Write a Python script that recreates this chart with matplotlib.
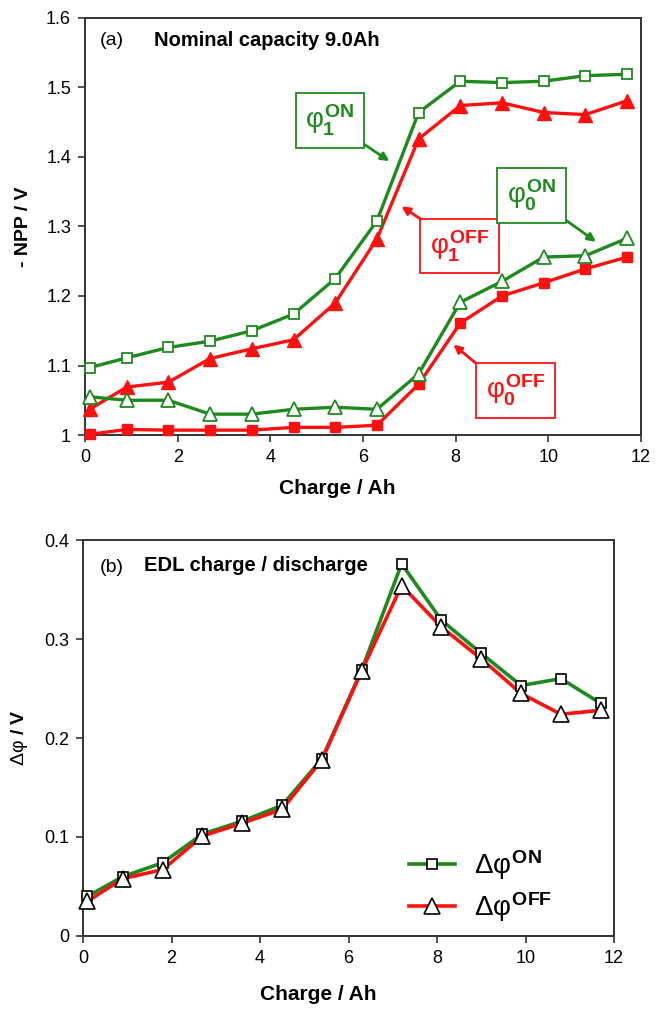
import matplotlib
matplotlib.use("Agg")
import matplotlib.pyplot as plt
from matplotlib.lines import Line2D

plt.rcParams['font.family'] = ['Liberation Sans', 'DejaVu Sans']
plt.rcParams['mathtext.fontset'] = 'custom'
plt.rcParams['mathtext.rm'] = 'Liberation Sans'
plt.rcParams['mathtext.it'] = 'Liberation Sans'
plt.rcParams['mathtext.bf'] = 'Liberation Sans:bold'

# ---------------- data ----------------
charge = [0.1, 0.9, 1.8, 2.7, 3.6, 4.5, 5.4, 6.3, 7.2, 8.1, 9.0, 9.9, 10.8, 11.7]

phi1_on = [1.097, 1.111, 1.126, 1.135, 1.150, 1.174, 1.225, 1.308, 1.464, 1.509,
           1.507, 1.509, 1.517, 1.519]
phi1_off = [1.037, 1.069, 1.076, 1.110, 1.124, 1.137, 1.190, 1.282, 1.426, 1.474,
            1.478, 1.464, 1.461, 1.481]
phi0_on = [1.055, 1.050, 1.050, 1.030, 1.030, 1.037, 1.040, 1.037, 1.088, 1.191,
           1.221, 1.256, 1.258, 1.283]
phi0_off = [1.001, 1.008, 1.007, 1.007, 1.007, 1.011, 1.011, 1.014, 1.073, 1.161,
            1.200, 1.219, 1.239, 1.256]

dphi_on = [0.040, 0.060, 0.074, 0.103, 0.116, 0.132, 0.179, 0.269, 0.376, 0.319,
           0.2855, 0.253, 0.260, 0.235]
dphi_off = [0.035, 0.058, 0.067, 0.101, 0.114, 0.128, 0.178, 0.268, 0.354, 0.312,
            0.280, 0.245, 0.224, 0.228]

xticks = [0, 2, 4, 6, 8, 10, 12]
yticks_a = [1.0, 1.1, 1.2, 1.3, 1.4, 1.5, 1.6]
yticklabels_a = ['1', '1.1', '1.2', '1.3', '1.4', '1.5', '1.6']
yticks_b = [0.0, 0.1, 0.2, 0.3, 0.4]
yticklabels_b = ['0', '0.1', '0.2', '0.3', '0.4']

GREEN = '#1e8a1e'
RED = '#ff1010'
SPINE = '#333333'

fig = plt.figure(figsize=(6.6, 10.1), dpi=100)
axa = fig.add_axes([0.1288, 0.5693, 0.8424, 0.4129])
axb = fig.add_axes([0.1258, 0.0733, 0.8045, 0.3920])


def style_axes(ax, label_x, label_y):
    for s in ax.spines.values():
        s.set_color(SPINE)
        s.set_linewidth(1.4)
    ax.tick_params(axis='both', which='both', direction='out', length=5, width=1.2,
                   color=SPINE, labelsize=13, top=False, right=False, pad=5)
    ax.set_xlim(0, 12)
    ax.set_xticks(xticks)
    ax.set_xticklabels([str(t) for t in xticks])
    ax.set_xlabel('Charge / Ah', fontsize=15, fontweight='bold')
    ax.xaxis.set_label_coords(label_x, label_y)


# ---------------- panel (a) ----------------
ax = axa
style_axes(ax, 0.454, -0.105)
ax.set_ylim(1.0, 1.6)
ax.set_yticks(yticks_a)
ax.set_yticklabels(yticklabels_a)
ax.set_ylabel('- NPP / V', fontsize=14, fontweight='bold', labelpad=10)

lw = 2.4
ax.plot(charge, phi1_on, '-s', color=GREEN, lw=lw, ms=7, mfc='white', mec=GREEN, mew=1.3,
        zorder=4, clip_on=False)
ax.plot(charge, phi1_off, '-^', color=RED, lw=lw, ms=9.5, mfc=RED, mec=RED,
        zorder=3, clip_on=False)
ax.plot(charge, phi0_on, '-^', color=GREEN, lw=lw, ms=9.5, mfc='white', mec=GREEN, mew=1.3,
        zorder=4, clip_on=False)
ax.plot(charge, phi0_off, '-s', color=RED, lw=lw, ms=7, mfc=RED, mec=RED,
        zorder=3, clip_on=False)

ax.text(0.026, 0.945, '(a)', transform=ax.transAxes, fontsize=14, va='center')
ax.text(0.124, 0.945, 'Nominal capacity 9.0Ah', transform=ax.transAxes, fontsize=14.5,
        fontweight='bold', va='center')


def label_box(ax, x, y, text, color, arrow_from, arrow_to):
    ax.text(x, y, text, color=color, fontsize=20, ha='center', va='center', zorder=6,
            bbox=dict(boxstyle='square,pad=0.35', fc='white', ec=color, lw=1.3))
    ax.annotate('', xy=arrow_to, xytext=arrow_from, zorder=5,
                arrowprops=dict(arrowstyle='-|>', color=color, lw=2.0,
                                mutation_scale=12, shrinkA=0, shrinkB=0))


label_box(ax, 5.29, 1.452, r'$\varphi_{\mathbf{1}}^{\mathbf{ON}}$', GREEN,
          (6.03, 1.418), (6.57, 1.394))
label_box(ax, 8.08, 1.272, r'$\varphi_{\mathbf{1}}^{\mathbf{OFF}}$', RED,
          (7.26, 1.310), (6.83, 1.329))
label_box(ax, 9.63, 1.345, r'$\varphi_{\mathbf{0}}^{\mathbf{ON}}$', GREEN,
          (10.36, 1.310), (11.03, 1.278))
label_box(ax, 9.29, 1.064, r'$\varphi_{\mathbf{0}}^{\mathbf{OFF}}$', RED,
          (8.46, 1.102), (7.95, 1.130))

# ---------------- panel (b) ----------------
ax = axb
style_axes(ax, 0.443, -0.125)
ax.set_ylim(0.0, 0.4)
ax.set_yticks(yticks_b)
ax.set_yticklabels(yticklabels_b)
ax.set_ylabel(r'$\Delta\varphi$ / V', fontsize=14, fontweight='bold', labelpad=10)

ax.plot(charge, dphi_on, '-', color=GREEN, lw=2.6, zorder=2, clip_on=False)
ax.plot(charge, dphi_off, '-', color=RED, lw=2.6, zorder=3, clip_on=False)
ax.plot(charge, dphi_on, 's', ls='none', ms=7, mfc='white', mec='black', mew=1.2,
        zorder=4, clip_on=False)
ax.plot(charge, dphi_off, '^', ls='none', ms=11, mfc='white', mec='black', mew=1.2,
        zorder=5, clip_on=False)

ax.text(0.031, 0.93, '(b)', transform=ax.transAxes, fontsize=14, va='center')
ax.text(0.114, 0.935, 'EDL charge / discharge', transform=ax.transAxes, fontsize=14.5,
        fontweight='bold', va='center')

h_on = Line2D([], [], color=GREEN, lw=2.6, marker='s', ms=7, mfc='white', mec='black', mew=1.2)
h_off = Line2D([], [], color=RED, lw=2.6, marker='^', ms=11, mfc='white', mec='black', mew=1.2)
ax.legend([h_on, h_off], [r'$\Delta\varphi^{\mathbf{ON}}$', r'$\Delta\varphi^{\mathbf{OFF}}$'],
          loc='lower left', bbox_to_anchor=(0.566, -0.032), frameon=False, fontsize=20,
          handlelength=1.66, handletextpad=0.7, labelspacing=0.3)

fig.savefig('out.png', dpi=100)
